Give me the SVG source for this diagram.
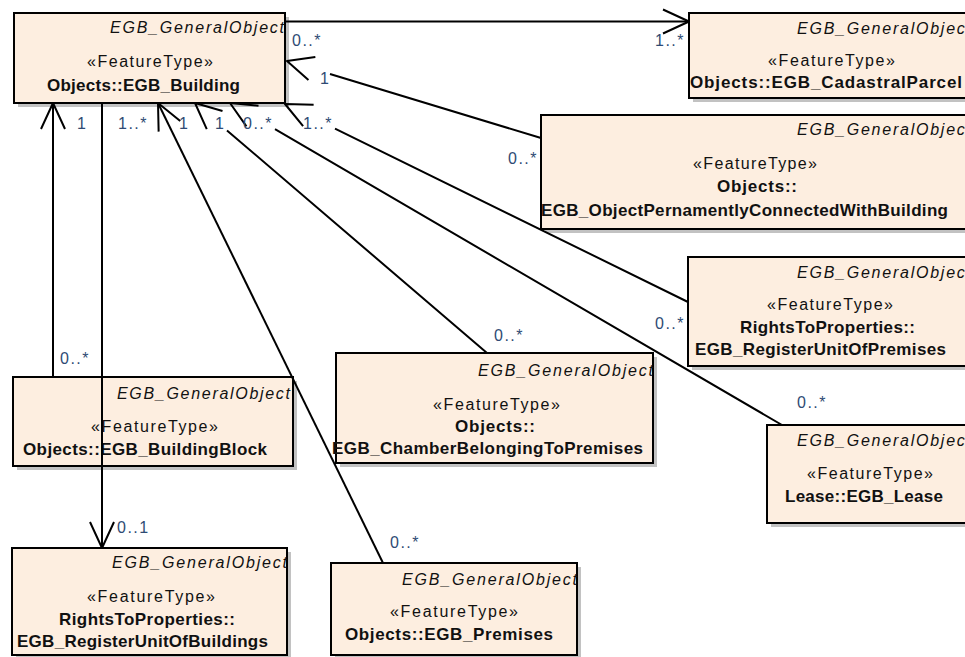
<svg xmlns="http://www.w3.org/2000/svg" width="965" height="657" viewBox="0 0 965 657">
  <defs>
    <style>
      .box { fill: #fdeee0; stroke: #000; stroke-width: 2; }
      .shadow { fill: #c2c2c2; }
      .t { font-family: "Liberation Sans", Arial, sans-serif; fill: #111; }
      .it { font-size: 16px; font-style: italic; }
      .st { font-size: 16px; }
      .nm { font-size: 17px; font-weight: bold; }
      .conn { fill: none; stroke: #000; stroke-width: 2; }
      .mult { font-family: "Liberation Sans", Arial, sans-serif; font-size: 16px; fill: #2f4b74; letter-spacing: 1.5px; }
    </style>
    <marker id="open" markerUnits="userSpaceOnUse" markerWidth="40" markerHeight="40" refX="0" refY="0" orient="auto" overflow="visible">
      <path d="M -26 -12 L 0 0 L -26 12" fill="none" stroke="#000" stroke-width="2" stroke-linejoin="round"/>
    </marker>
  </defs>

  <rect width="965" height="657" fill="#fff"/>

  <!-- classes -->
  <g id="EGB_Building">
    <rect class="shadow" x="18" y="17" width="271" height="90"/>
    <rect class="box" x="14" y="13" width="271" height="90"/>
    <text class="t it" x="110" y="33" textLength="174" lengthAdjust="spacing">EGB_GeneralObject</text>
    <text class="t st" x="87" y="67" textLength="126" lengthAdjust="spacing">«FeatureType»</text>
    <text class="t nm" x="47" y="91" textLength="193" lengthAdjust="spacing">Objects::EGB_Building</text>
  </g>

  <g id="EGB_CadastralParcel">
    <rect class="shadow" x="693" y="17" width="284" height="85"/>
    <rect class="box" x="689" y="13" width="284" height="85"/>
    <text class="t it" x="797" y="34" textLength="174" lengthAdjust="spacing">EGB_GeneralObject</text>
    <text class="t st" x="768" y="66" textLength="127" lengthAdjust="spacing">«FeatureType»</text>
    <text class="t nm" x="690" y="88" textLength="272" lengthAdjust="spacing">Objects::EGB_CadastralParcel</text>
  </g>

  <g id="EGB_ObjectPernamentlyConnectedWithBuilding">
    <rect class="shadow" x="545" y="119" width="432" height="114"/>
    <rect class="box" x="541" y="115" width="432" height="114"/>
    <text class="t it" x="797" y="135" textLength="174" lengthAdjust="spacing">EGB_GeneralObject</text>
    <text class="t st" x="693" y="169" textLength="124" lengthAdjust="spacing">«FeatureType»</text>
    <text class="t nm" x="717" y="192" textLength="80" lengthAdjust="spacing">Objects::</text>
    <text class="t nm" x="541" y="216" textLength="407" lengthAdjust="spacing">EGB_ObjectPernamentlyConnectedWithBuilding</text>
  </g>

  <g id="EGB_RegisterUnitOfPremises">
    <rect class="shadow" x="692" y="261" width="285" height="109"/>
    <rect class="box" x="688" y="257" width="285" height="109"/>
    <text class="t it" x="797" y="278" textLength="174" lengthAdjust="spacing">EGB_GeneralObject</text>
    <text class="t st" x="767" y="310" textLength="126" lengthAdjust="spacing">«FeatureType»</text>
    <text class="t nm" x="740" y="333" textLength="175" lengthAdjust="spacing">RightsToProperties::</text>
    <text class="t nm" x="695" y="355" textLength="251" lengthAdjust="spacing">EGB_RegisterUnitOfPremises</text>
  </g>

  <g id="EGB_Lease">
    <rect class="shadow" x="771" y="429" width="206" height="98"/>
    <rect class="box" x="767" y="425" width="206" height="98"/>
    <text class="t it" x="797" y="446" textLength="174" lengthAdjust="spacing">EGB_GeneralObject</text>
    <text class="t st" x="807" y="479" textLength="126" lengthAdjust="spacing">«FeatureType»</text>
    <text class="t nm" x="785" y="502" textLength="158" lengthAdjust="spacing">Lease::EGB_Lease</text>
  </g>

  <g id="EGB_BuildingBlock">
    <rect class="shadow" x="17" y="381" width="280" height="89"/>
    <rect class="box" x="13" y="377" width="280" height="89"/>
    <text class="t it" x="117" y="399" textLength="173" lengthAdjust="spacing">EGB_GeneralObject</text>
    <text class="t st" x="91" y="432" textLength="127" lengthAdjust="spacing">«FeatureType»</text>
    <text class="t nm" x="23" y="455" textLength="244" lengthAdjust="spacing">Objects::EGB_BuildingBlock</text>
  </g>

  <g id="EGB_ChamberBelongingToPremises">
    <rect class="shadow" x="340" y="357" width="317" height="110"/>
    <rect class="box" x="336" y="353" width="317" height="110"/>
    <text class="t it" x="478" y="376" textLength="175" lengthAdjust="spacing">EGB_GeneralObject</text>
    <text class="t st" x="433" y="410" textLength="127" lengthAdjust="spacing">«FeatureType»</text>
    <text class="t nm" x="455" y="432" textLength="80" lengthAdjust="spacing">Objects::</text>
    <text class="t nm" x="332" y="454" textLength="311" lengthAdjust="spacing">EGB_ChamberBelongingToPremises</text>
  </g>

  <g id="EGB_RegisterUnitOfBuildings">
    <rect class="shadow" x="16" y="552" width="275" height="107"/>
    <rect class="box" x="12" y="548" width="275" height="107"/>
    <text class="t it" x="112" y="568" textLength="175" lengthAdjust="spacing">EGB_GeneralObject</text>
    <text class="t st" x="87" y="602" textLength="128" lengthAdjust="spacing">«FeatureType»</text>
    <text class="t nm" x="59" y="625" textLength="176" lengthAdjust="spacing">RightsToProperties::</text>
    <text class="t nm" x="17" y="647" textLength="251" lengthAdjust="spacing">EGB_RegisterUnitOfBuildings</text>
  </g>

  <g id="EGB_Premises">
    <rect class="shadow" x="335" y="567" width="246" height="92"/>
    <rect class="box" x="331" y="563" width="246" height="92"/>
    <text class="t it" x="402" y="585" textLength="175" lengthAdjust="spacing">EGB_GeneralObject</text>
    <text class="t st" x="390" y="617" textLength="128" lengthAdjust="spacing">«FeatureType»</text>
    <text class="t nm" x="345" y="640" textLength="208" lengthAdjust="spacing">Objects::EGB_Premises</text>
  </g>

  <!-- associations; shafts stop short where a role label sits over them -->
  <g id="connectors">
    <path class="conn" d="M 285 21.5 L 689 21.5" marker-end="url(#open)"/>
    <path class="conn" d="M 541 138 L 330 74 M 287.5 61.15 L 287 61" marker-end="url(#open)"/>
    <path class="conn" d="M 688 302 L 335 128.6 M 285.45 104.22 L 285 104" marker-end="url(#open)"/>
    <path class="conn" d="M 782 425 L 275 129.2 M 230.43 103.25 L 230 103" marker-end="url(#open)"/>
    <path class="conn" d="M 487 353 L 227 130.4 M 195.38 103.33 L 195 103" marker-end="url(#open)"/>
    <path class="conn" d="M 383 563 L 158 103" marker-end="url(#open)"/>
    <path class="conn" d="M 53 377 L 53 103" marker-end="url(#open)"/>
    <path class="conn" d="M 102 103 L 102 548" marker-end="url(#open)"/>

    <text class="mult" x="292" y="46">0..*</text>
    <text class="mult" x="655" y="46">1..*</text>
    <text class="mult" x="320" y="84">1</text>
    <text class="mult" x="508" y="164">0..*</text>
    <text class="mult" x="77" y="129">1</text>
    <text class="mult" x="60" y="364">0..*</text>
    <text class="mult" x="118" y="129">1..*</text>
    <text class="mult" x="117" y="533">0..1</text>
    <text class="mult" x="179" y="129">1</text>
    <text class="mult" x="390" y="548">0..*</text>
    <text class="mult" x="215" y="129">1</text>
    <text class="mult" x="494" y="341">0..*</text>
    <text class="mult" x="243" y="129">0..*</text>
    <text class="mult" x="797" y="408">0..*</text>
    <text class="mult" x="303" y="129">1..*</text>
    <text class="mult" x="655" y="329">0..*</text>
  </g>
</svg>
